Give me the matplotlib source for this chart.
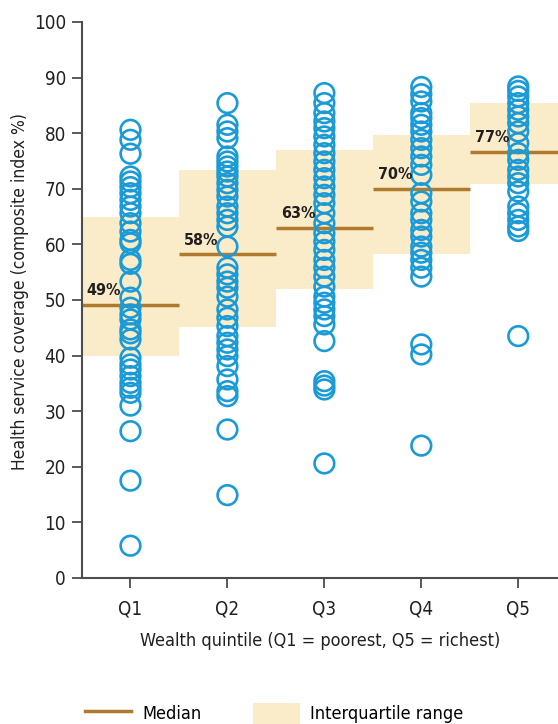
import numpy as np
import matplotlib as mpl
from matplotlib import pyplot as plt
from matplotlib.lines import Line2D
from matplotlib.patches import Patch

quintiles = ['Q1', 'Q2', 'Q3', 'Q4', 'Q5']

q1 = [80.6, 78.8, 76.3, 72.2, 71.3, 70.3, 69.2, 68.0, 66.8, 65.6, 63.8, 62.3,
      60.8, 60.2, 57.2, 56.5, 53.3, 50.4, 48.6, 47.4, 46.5, 44.7, 44.0, 42.9,
      39.6, 38.4, 37.5, 36.3, 35.1, 34.2, 33.3, 31.0, 26.4, 17.5, 5.8]
q2 = [85.4, 81.5, 80.3, 79.1, 75.8, 74.9, 74.0, 73.1, 72.2, 71.0, 69.8, 68.6,
      66.8, 65.6, 64.4, 63.2, 59.6, 55.8, 54.6, 53.3, 52.2, 50.6, 48.3, 46.8,
      45.3, 43.5, 42.3, 41.1, 39.9, 38.1, 35.7, 33.6, 32.7, 26.7, 14.9]
q3 = [87.2, 85.4, 83.6, 82.1, 80.9, 79.4, 77.9, 76.4, 74.9, 73.4, 71.9, 70.4,
      68.9, 67.4, 65.6, 63.8, 62.0, 60.5, 59.0, 57.2, 55.8, 54.2, 52.4, 50.6,
      49.5, 48.3, 47.1, 45.6, 42.6, 35.4, 34.6, 33.9, 20.6]
q4 = [88.3, 87.0, 85.7, 83.6, 82.7, 81.5, 80.3, 78.8, 77.3, 75.8, 74.3, 72.5,
      69.2, 67.7, 65.6, 64.4, 62.6, 61.4, 59.6, 58.5, 57.2, 55.8, 54.2, 42.0,
      40.2, 23.8]
q5 = [88.4, 87.6, 86.6, 85.4, 84.2, 83.0, 81.8, 80.3, 78.2, 76.4, 75.2, 73.4,
      72.2, 71.0, 69.5, 66.8, 65.6, 64.4, 63.2, 62.4, 43.5]
points = [q1, q2, q3, q4, q5]

medians = [49, 58, 63, 70, 77]
median_pos = [49.1, 58.2, 63.0, 70.0, 76.6]
iqr_low = [40.0, 45.2, 51.9, 58.2, 70.8]
iqr_high = [65.0, 73.4, 77.0, 79.7, 85.4]

blue = '#1a9bd7'
brown = '#b07a2e'
cream = '#fbecc9'

# condensed face of DejaVu is closest to the original narrow font
plt.rcParams['font.family'] = ['DejaVu Sans']
plt.rcParams['font.stretch'] = 'condensed'

fig = plt.figure(figsize=(5.58, 7.24), dpi=100)
ax = fig.add_axes([82 / 558, 0.2017, 476 / 558, 0.768])

x = np.arange(1, len(quintiles) + 1)
for i, xc in enumerate(x):
    ax.fill_between([xc - 0.5, xc + 0.5], iqr_low[i], iqr_high[i],
                    color=cream, lw=0, zorder=1)
    ax.plot([xc - 0.5, xc + 0.5], [median_pos[i]] * 2, color=brown, lw=2.5,
            zorder=2, solid_capstyle='butt')
    ax.text(xc - 0.45, median_pos[i] + 1.2, '%d%%' % medians[i], fontsize=11.5,
            fontweight='bold', color='#231f20', ha='left', va='bottom', zorder=4)
    ax.scatter([xc] * len(points[i]), points[i], s=200, facecolors='none',
               edgecolors=blue, linewidths=1.9, zorder=3)

ax.set_xlim(0.5, 5.41)
ax.set_ylim(0, 100)
ax.set_yticks(range(0, 101, 10))
ax.set_xticks(x)
ax.set_xticklabels(quintiles)
ax.spines['top'].set_visible(False)
ax.spines['right'].set_visible(False)
for s in ['left', 'bottom']:
    ax.spines[s].set_color('#4d4d4f')
    ax.spines[s].set_linewidth(1.5)
ax.tick_params(axis='both', colors='#4d4d4f', labelcolor='#231f20',
               labelsize=13.5, width=1.3, length=7.5)
ax.tick_params(axis='x', pad=8)
ax.tick_params(axis='y', pad=4)
ax.set_xlabel('Wealth quintile (Q1 = poorest, Q5 = richest)', fontsize=13,
              color='#231f20', labelpad=10)
ax.set_ylabel('Health service coverage (composite index %)', fontsize=12.5,
              color='#231f20')
ax.yaxis.set_label_coords(-0.112, 0.515)

handles = [Line2D([0], [0], color=brown, lw=2.5),
           Patch(facecolor=cream, edgecolor='none')]
fig.legend(handles, ['Median', 'Interquartile range'], ncol=2,
           loc='lower left', bbox_to_anchor=(85 / 558, 0.0), frameon=False,
           fontsize=13, handlelength=2.55, handleheight=1.45,
           columnspacing=2.9, handletextpad=0.6, borderpad=0,
           borderaxespad=0)

fig.savefig('out.png', dpi=100)
